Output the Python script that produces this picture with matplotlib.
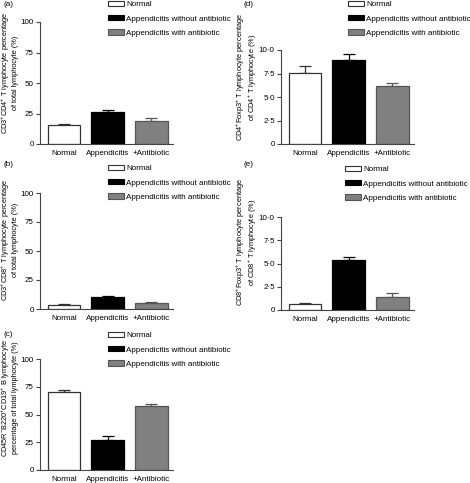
import numpy as np
import matplotlib.pyplot as plt
from matplotlib.patches import Patch

plt.rcParams["font.family"] = ["Liberation Sans", "DejaVu Sans"]
plt.rcParams["mathtext.default"] = "regular"

groups = ["Normal", "Appendicitis", "+Antibiotic"]
legend_labels = ["Normal", "Appendicitis without antibiotic", "Appendicitis with antibiotic"]

# mean values and upper error (SEM)
cd4_mean = [15.5, 26.5, 19.0]
cd4_err = [1.0, 1.2, 2.5]
cd8_mean = [3.5, 10.5, 5.5]
cd8_err = [0.5, 0.8, 0.8]
bcell_mean = [70.5, 27.0, 57.5]
bcell_err = [2.0, 3.2, 2.0]
cd4foxp3_mean = [7.6, 8.95, 6.15]
cd4foxp3_err = [0.75, 0.6, 0.3]
cd8foxp3_mean = [0.65, 5.35, 1.4]
cd8foxp3_err = [0.1, 0.4, 0.4]

pct_ticks = [0, 25, 50, 75, 100]
pct_ticklabels = ["0", "25", "50", "75", "100"]
treg_ticks = [0, 2.5, 5.0, 7.5, 10.0]
treg_ticklabels = ["0", "2\u00b75", "5\u00b70", "7\u00b75", "10\u00b70"]

face = ["white", "black", "#808080"]
edge = ["#333333", "black", "#555555"]

W, H = 470, 483
FS = 5.8
fig = plt.figure(figsize=(W / 100, H / 100), dpi=100)


def px_axes(left, top, right, bottom):
    return fig.add_axes([left / W, 1 - bottom / H, (right - left) / W, (bottom - top) / H])


def panel(ax, means, errs, ticks, ticklabels, ylabel, letter, label_x, label_y, leg_x, leg_y):
    x = np.arange(len(groups))
    ax.bar(x, means, width=0.75, color=face, edgecolor=edge, linewidth=0.9, zorder=2)
    for i in range(len(x)):
        ax.errorbar(x[i], means[i], yerr=[[0], [errs[i]]], fmt="none",
                    ecolor=edge[i], elinewidth=0.9, capsize=4.5, capthick=0.9, zorder=1)
    ax.set_xlim(-0.55, 2.5)
    ax.set_ylim(ticks[0], ticks[-1])
    ax.set_yticks(ticks)
    ax.set_yticklabels(ticklabels, fontsize=FS)
    ax.set_xticks(x)
    ax.set_xticklabels(groups, fontsize=FS)
    ax.tick_params(axis="x", length=0, pad=4)
    ax.tick_params(axis="y", length=3, width=0.8, color="#444444", pad=1.5)
    for s in ["top", "right"]:
        ax.spines[s].set_visible(False)
    for s in ["left", "bottom"]:
        ax.spines[s].set_color("#444444")
        ax.spines[s].set_linewidth(0.8)
    ax.set_ylabel(ylabel, fontsize=5.3, linespacing=1.0, va="center", ha="center")
    ax.yaxis.set_label_coords(label_x / W, 1 - label_y / H, transform=fig.transFigure)
    ax.patch.set_alpha(0)

    handles = [Patch(facecolor=face[i], edgecolor=edge[i], linewidth=0.8) for i in range(3)]
    fig.legend(handles, legend_labels, loc="upper left",
               bbox_to_anchor=(leg_x / W, 1 - leg_y / H), frameon=False, fontsize=FS,
               handlelength=2.0, handleheight=0.6, handletextpad=0.25,
               labelspacing=0.85, borderpad=0, borderaxespad=0)
    fig.text(letter[1] / W, 1 - letter[2] / H, letter[0], fontsize=FS, ha="left", va="center")


ax_a = px_axes(40, 22, 173, 144)
panel(ax_a, cd4_mean, cd4_err, pct_ticks, pct_ticklabels,
      "CD3$^{+}$CD4$^{+}$ T lymphocyte percentage\nof total lymphocyte (%)",
      ("(a)", 3, 5), 9, 73, 108, 1)

ax_b = px_axes(40, 193, 173, 309)
panel(ax_b, cd8_mean, cd8_err, pct_ticks, pct_ticklabels,
      "CD3$^{+}$CD8$^{+}$ T lymphocyte percentage\nof total lymphocyte (%)",
      ("(b)", 3, 164), 9, 240, 108, 165)

ax_c = px_axes(40, 359, 173, 470)
panel(ax_c, bcell_mean, bcell_err, pct_ticks, pct_ticklabels,
      "CD45R$^{-}$B220$^{+}$CD19$^{+}$ B lymphocyte\npercentage of total lymphocyte (%)",
      ("(c)", 3, 335), 9, 398, 108, 332)

ax_d = px_axes(281, 50, 414, 144)
panel(ax_d, cd4foxp3_mean, cd4foxp3_err, treg_ticks, treg_ticklabels,
      "CD4$^{+}$Foxp3$^{+}$ T lymphocyte percentage\nof CD4$^{+}$ T lymphocyte (%)",
      ("(d)", 243, 5), 247, 77, 348, 1)

ax_e = px_axes(281, 217, 414, 310)
panel(ax_e, cd8foxp3_mean, cd8foxp3_err, treg_ticks, treg_ticklabels,
      "CD8$^{+}$Foxp3$^{+}$ T lymphocyte percentage\nof CD8$^{+}$ T lymphocyte (%)",
      ("(e)", 243, 164), 247, 242, 345, 166)

fig.savefig("out.png", dpi=100)
